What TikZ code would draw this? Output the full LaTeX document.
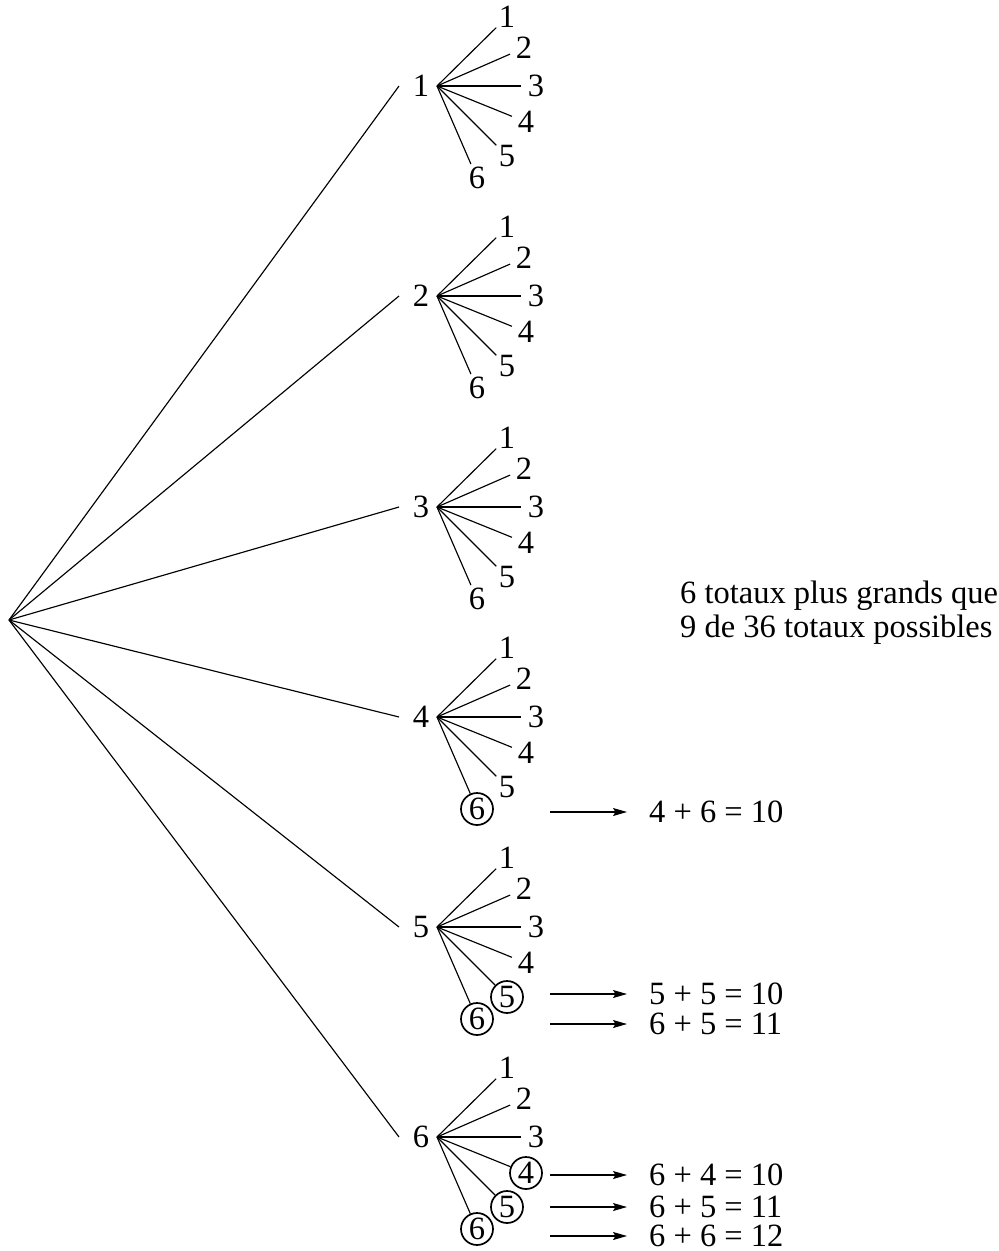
\documentclass[tikz,border=0pt]{standalone}
\usepackage{fontspec}
\setmainfont{Liberation Serif}
\usetikzlibrary{arrows.meta}
\begin{document}
\begin{tikzpicture}[x=1pt,y=-1pt,
 every node/.style={font=\fontsize{32.5}{38}\selectfont},
 edge/.style={line width=1.15pt},
 leaf/.style={circle,inner sep=0pt,minimum size=30pt},
 ring/.style={draw,line width=1.7pt,minimum size=32pt},
 arr/.style={line width=1.15pt,-{Stealth[length=14pt,width=8pt,inset=2.5pt]}},
 eq/.style={anchor=west,inner xsep=22pt,inner ysep=0pt},
 s46/.style={ring}, s55/.style={ring}, s56/.style={ring},
 s64/.style={ring}, s65/.style={ring}, s66/.style={ring}]
\useasboundingbox (0,0) rectangle (999,1251);
\coordinate (root) at (9,620);
\foreach \i/\y in {1/86,2/296,3/507,4/717,5/927,6/1137}{
  \node (p\i) at (421,\y) {\i};
  \coordinate (a\i) at (399,\y);
  \coordinate (o\i) at (437,\y);
  \draw[edge] (root) -- (a\i);
  \foreach \j/\dx/\dy in {1/70/-69,2/87/-38,3/99/0,4/89/36,5/70/70,6/40/92}{
     \node[leaf,s\i\j/.try] (c\i\j) at ([shift={(\dx,\dy)}]o\i) {\j};
     \draw[edge] (o\i) -- (c\i\j);
  }
}
\node[anchor=base west,inner sep=0pt] (t1) at (680,603) {6 totaux plus grands que};
\node[anchor=base west,inner sep=0pt] (t2) at (680,637) {9 de 36 totaux possibles};
\foreach \k/\y/\txt in {a/812/{4 + 6 = 10},b/994/{5 + 5 = 10},c/1024/{6 + 5 = 11},d/1175/{6 + 4 = 10},e/1207/{6 + 5 = 11},f/1236/{6 + 6 = 12}}{
  \node[eq] (e\k) at (627,\y) {\txt};
  \coordinate (s\k) at (550,\y);
  \draw[arr] (s\k) -- (e\k.west);
}
\end{tikzpicture}
\end{document}
